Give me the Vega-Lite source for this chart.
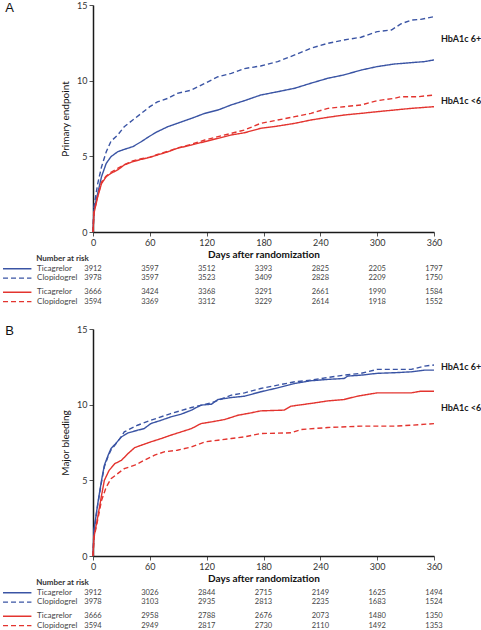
{
  "$schema": "https://vega.github.io/schema/vega-lite/v6.json",
  "padding": {"left": 2, "top": 1, "right": 0, "bottom": 0},
  "bounds": "flush",
  "spacing": 25,
  "config": {
    "view": {"stroke": null},
    "font": "Lato",
    "axis": {"domainColor": "#1a1a1a", "domainWidth": 1.5, "tickColor": "#555", "tickSize": 4, "labelFontSize": 9, "labelColor": "#333", "labelFont": "Lato", "titleFont": "Lato", "titleFontSize": 10, "titleColor": "#111", "grid": false}
  },
  "datasets": {
    "curves": [
      {"panel":"A","group":"6+","drug":"Clopidogrel","day":0,"pct":0},
      {"panel":"A","group":"6+","drug":"Clopidogrel","day":1,"pct":1.67},
      {"panel":"A","group":"6+","drug":"Clopidogrel","day":5,"pct":3.2},
      {"panel":"A","group":"6+","drug":"Clopidogrel","day":9,"pct":4.3},
      {"panel":"A","group":"6+","drug":"Clopidogrel","day":14,"pct":5.3},
      {"panel":"A","group":"6+","drug":"Clopidogrel","day":19,"pct":6.0},
      {"panel":"A","group":"6+","drug":"Clopidogrel","day":26,"pct":6.4},
      {"panel":"A","group":"6+","drug":"Clopidogrel","day":33,"pct":6.96},
      {"panel":"A","group":"6+","drug":"Clopidogrel","day":42,"pct":7.4},
      {"panel":"A","group":"6+","drug":"Clopidogrel","day":51,"pct":7.84},
      {"panel":"A","group":"6+","drug":"Clopidogrel","day":60,"pct":8.28},
      {"panel":"A","group":"6+","drug":"Clopidogrel","day":68,"pct":8.6},
      {"panel":"A","group":"6+","drug":"Clopidogrel","day":79,"pct":8.83},
      {"panel":"A","group":"6+","drug":"Clopidogrel","day":89,"pct":9.16},
      {"panel":"A","group":"6+","drug":"Clopidogrel","day":104,"pct":9.38},
      {"panel":"A","group":"6+","drug":"Clopidogrel","day":118,"pct":9.82},
      {"panel":"A","group":"6+","drug":"Clopidogrel","day":132,"pct":10.26},
      {"panel":"A","group":"6+","drug":"Clopidogrel","day":146,"pct":10.48},
      {"panel":"A","group":"6+","drug":"Clopidogrel","day":160,"pct":10.8},
      {"panel":"A","group":"6+","drug":"Clopidogrel","day":177,"pct":10.97},
      {"panel":"A","group":"6+","drug":"Clopidogrel","day":195,"pct":11.26},
      {"panel":"A","group":"6+","drug":"Clopidogrel","day":213,"pct":11.7},
      {"panel":"A","group":"6+","drug":"Clopidogrel","day":230,"pct":12.14},
      {"panel":"A","group":"6+","drug":"Clopidogrel","day":248,"pct":12.47},
      {"panel":"A","group":"6+","drug":"Clopidogrel","day":265,"pct":12.69},
      {"panel":"A","group":"6+","drug":"Clopidogrel","day":283,"pct":12.87},
      {"panel":"A","group":"6+","drug":"Clopidogrel","day":300,"pct":13.24},
      {"panel":"A","group":"6+","drug":"Clopidogrel","day":315,"pct":13.35},
      {"panel":"A","group":"6+","drug":"Clopidogrel","day":325,"pct":13.75},
      {"panel":"A","group":"6+","drug":"Clopidogrel","day":336,"pct":14.0},
      {"panel":"A","group":"6+","drug":"Clopidogrel","day":346,"pct":14.05},
      {"panel":"A","group":"6+","drug":"Clopidogrel","day":360,"pct":14.23},

      {"panel":"A","group":"6+","drug":"Ticagrelor","day":0,"pct":0},
      {"panel":"A","group":"6+","drug":"Ticagrelor","day":1,"pct":1.45},
      {"panel":"A","group":"6+","drug":"Ticagrelor","day":5,"pct":2.56},
      {"panel":"A","group":"6+","drug":"Ticagrelor","day":9,"pct":3.66},
      {"panel":"A","group":"6+","drug":"Ticagrelor","day":14,"pct":4.54},
      {"panel":"A","group":"6+","drug":"Ticagrelor","day":19,"pct":4.98},
      {"panel":"A","group":"6+","drug":"Ticagrelor","day":26,"pct":5.3},
      {"panel":"A","group":"6+","drug":"Ticagrelor","day":33,"pct":5.46},
      {"panel":"A","group":"6+","drug":"Ticagrelor","day":42,"pct":5.64},
      {"panel":"A","group":"6+","drug":"Ticagrelor","day":51,"pct":5.97},
      {"panel":"A","group":"6+","drug":"Ticagrelor","day":60,"pct":6.34},
      {"panel":"A","group":"6+","drug":"Ticagrelor","day":68,"pct":6.63},
      {"panel":"A","group":"6+","drug":"Ticagrelor","day":79,"pct":6.96},
      {"panel":"A","group":"6+","drug":"Ticagrelor","day":89,"pct":7.18},
      {"panel":"A","group":"6+","drug":"Ticagrelor","day":104,"pct":7.51},
      {"panel":"A","group":"6+","drug":"Ticagrelor","day":118,"pct":7.84},
      {"panel":"A","group":"6+","drug":"Ticagrelor","day":132,"pct":8.06},
      {"panel":"A","group":"6+","drug":"Ticagrelor","day":146,"pct":8.4},
      {"panel":"A","group":"6+","drug":"Ticagrelor","day":160,"pct":8.68},
      {"panel":"A","group":"6+","drug":"Ticagrelor","day":177,"pct":9.05},
      {"panel":"A","group":"6+","drug":"Ticagrelor","day":195,"pct":9.27},
      {"panel":"A","group":"6+","drug":"Ticagrelor","day":213,"pct":9.5},
      {"panel":"A","group":"6+","drug":"Ticagrelor","day":230,"pct":9.83},
      {"panel":"A","group":"6+","drug":"Ticagrelor","day":248,"pct":10.16},
      {"panel":"A","group":"6+","drug":"Ticagrelor","day":265,"pct":10.38},
      {"panel":"A","group":"6+","drug":"Ticagrelor","day":283,"pct":10.7},
      {"panel":"A","group":"6+","drug":"Ticagrelor","day":300,"pct":10.93},
      {"panel":"A","group":"6+","drug":"Ticagrelor","day":318,"pct":11.1},
      {"panel":"A","group":"6+","drug":"Ticagrelor","day":336,"pct":11.19},
      {"panel":"A","group":"6+","drug":"Ticagrelor","day":350,"pct":11.26},
      {"panel":"A","group":"6+","drug":"Ticagrelor","day":360,"pct":11.37},

      {"panel":"A","group":"<6","drug":"Ticagrelor","day":0,"pct":0},
      {"panel":"A","group":"<6","drug":"Ticagrelor","day":1,"pct":1.23},
      {"panel":"A","group":"<6","drug":"Ticagrelor","day":5,"pct":2.33},
      {"panel":"A","group":"<6","drug":"Ticagrelor","day":9,"pct":3.2},
      {"panel":"A","group":"<6","drug":"Ticagrelor","day":14,"pct":3.66},
      {"panel":"A","group":"<6","drug":"Ticagrelor","day":19,"pct":3.88},
      {"panel":"A","group":"<6","drug":"Ticagrelor","day":26,"pct":4.1},
      {"panel":"A","group":"<6","drug":"Ticagrelor","day":33,"pct":4.43},
      {"panel":"A","group":"<6","drug":"Ticagrelor","day":42,"pct":4.65},
      {"panel":"A","group":"<6","drug":"Ticagrelor","day":51,"pct":4.8},
      {"panel":"A","group":"<6","drug":"Ticagrelor","day":60,"pct":4.93},
      {"panel":"A","group":"<6","drug":"Ticagrelor","day":68,"pct":5.09},
      {"panel":"A","group":"<6","drug":"Ticagrelor","day":79,"pct":5.3},
      {"panel":"A","group":"<6","drug":"Ticagrelor","day":89,"pct":5.53},
      {"panel":"A","group":"<6","drug":"Ticagrelor","day":104,"pct":5.75},
      {"panel":"A","group":"<6","drug":"Ticagrelor","day":118,"pct":5.97},
      {"panel":"A","group":"<6","drug":"Ticagrelor","day":132,"pct":6.19},
      {"panel":"A","group":"<6","drug":"Ticagrelor","day":146,"pct":6.41},
      {"panel":"A","group":"<6","drug":"Ticagrelor","day":160,"pct":6.56},
      {"panel":"A","group":"<6","drug":"Ticagrelor","day":177,"pct":6.85},
      {"panel":"A","group":"<6","drug":"Ticagrelor","day":195,"pct":7.0},
      {"panel":"A","group":"<6","drug":"Ticagrelor","day":213,"pct":7.18},
      {"panel":"A","group":"<6","drug":"Ticagrelor","day":230,"pct":7.4},
      {"panel":"A","group":"<6","drug":"Ticagrelor","day":248,"pct":7.58},
      {"panel":"A","group":"<6","drug":"Ticagrelor","day":265,"pct":7.73},
      {"panel":"A","group":"<6","drug":"Ticagrelor","day":283,"pct":7.84},
      {"panel":"A","group":"<6","drug":"Ticagrelor","day":300,"pct":7.95},
      {"panel":"A","group":"<6","drug":"Ticagrelor","day":318,"pct":8.06},
      {"panel":"A","group":"<6","drug":"Ticagrelor","day":336,"pct":8.17},
      {"panel":"A","group":"<6","drug":"Ticagrelor","day":360,"pct":8.28},

      {"panel":"A","group":"<6","drug":"Clopidogrel","day":0,"pct":0},
      {"panel":"A","group":"<6","drug":"Clopidogrel","day":1,"pct":1.3},
      {"panel":"A","group":"<6","drug":"Clopidogrel","day":5,"pct":2.4},
      {"panel":"A","group":"<6","drug":"Clopidogrel","day":9,"pct":3.3},
      {"panel":"A","group":"<6","drug":"Clopidogrel","day":14,"pct":3.7},
      {"panel":"A","group":"<6","drug":"Clopidogrel","day":19,"pct":3.95},
      {"panel":"A","group":"<6","drug":"Clopidogrel","day":26,"pct":4.2},
      {"panel":"A","group":"<6","drug":"Clopidogrel","day":33,"pct":4.45},
      {"panel":"A","group":"<6","drug":"Clopidogrel","day":42,"pct":4.7},
      {"panel":"A","group":"<6","drug":"Clopidogrel","day":51,"pct":4.85},
      {"panel":"A","group":"<6","drug":"Clopidogrel","day":60,"pct":4.95},
      {"panel":"A","group":"<6","drug":"Clopidogrel","day":68,"pct":5.12},
      {"panel":"A","group":"<6","drug":"Clopidogrel","day":79,"pct":5.33},
      {"panel":"A","group":"<6","drug":"Clopidogrel","day":89,"pct":5.55},
      {"panel":"A","group":"<6","drug":"Clopidogrel","day":104,"pct":5.8},
      {"panel":"A","group":"<6","drug":"Clopidogrel","day":118,"pct":6.08},
      {"panel":"A","group":"<6","drug":"Clopidogrel","day":132,"pct":6.3},
      {"panel":"A","group":"<6","drug":"Clopidogrel","day":146,"pct":6.52},
      {"panel":"A","group":"<6","drug":"Clopidogrel","day":160,"pct":6.74},
      {"panel":"A","group":"<6","drug":"Clopidogrel","day":177,"pct":7.18},
      {"panel":"A","group":"<6","drug":"Clopidogrel","day":195,"pct":7.4},
      {"panel":"A","group":"<6","drug":"Clopidogrel","day":213,"pct":7.62},
      {"panel":"A","group":"<6","drug":"Clopidogrel","day":230,"pct":7.84},
      {"panel":"A","group":"<6","drug":"Clopidogrel","day":248,"pct":8.17},
      {"panel":"A","group":"<6","drug":"Clopidogrel","day":265,"pct":8.28},
      {"panel":"A","group":"<6","drug":"Clopidogrel","day":283,"pct":8.39},
      {"panel":"A","group":"<6","drug":"Clopidogrel","day":300,"pct":8.68},
      {"panel":"A","group":"<6","drug":"Clopidogrel","day":318,"pct":8.83},
      {"panel":"A","group":"<6","drug":"Clopidogrel","day":325,"pct":8.94},
      {"panel":"A","group":"<6","drug":"Clopidogrel","day":343,"pct":8.94},
      {"panel":"A","group":"<6","drug":"Clopidogrel","day":360,"pct":9.05},

      {"panel":"B","group":"6+","drug":"Ticagrelor","day":0,"pct":0},
      {"panel":"B","group":"6+","drug":"Ticagrelor","day":1,"pct":1.69},
      {"panel":"B","group":"6+","drug":"Ticagrelor","day":5,"pct":3.45},
      {"panel":"B","group":"6+","drug":"Ticagrelor","day":9,"pct":5.0},
      {"panel":"B","group":"6+","drug":"Ticagrelor","day":12,"pct":6.0},
      {"panel":"B","group":"6+","drug":"Ticagrelor","day":16,"pct":6.66},
      {"panel":"B","group":"6+","drug":"Ticagrelor","day":19,"pct":7.1},
      {"panel":"B","group":"6+","drug":"Ticagrelor","day":24,"pct":7.43},
      {"panel":"B","group":"6+","drug":"Ticagrelor","day":30,"pct":7.87},
      {"panel":"B","group":"6+","drug":"Ticagrelor","day":37,"pct":8.13},
      {"panel":"B","group":"6+","drug":"Ticagrelor","day":47,"pct":8.31},
      {"panel":"B","group":"6+","drug":"Ticagrelor","day":54,"pct":8.42},
      {"panel":"B","group":"6+","drug":"Ticagrelor","day":61,"pct":8.75},
      {"panel":"B","group":"6+","drug":"Ticagrelor","day":72,"pct":8.97},
      {"panel":"B","group":"6+","drug":"Ticagrelor","day":82,"pct":9.19},
      {"panel":"B","group":"6+","drug":"Ticagrelor","day":93,"pct":9.37},
      {"panel":"B","group":"6+","drug":"Ticagrelor","day":104,"pct":9.64},
      {"panel":"B","group":"6+","drug":"Ticagrelor","day":114,"pct":9.97},
      {"panel":"B","group":"6+","drug":"Ticagrelor","day":125,"pct":10.03},
      {"panel":"B","group":"6+","drug":"Ticagrelor","day":132,"pct":10.34},
      {"panel":"B","group":"6+","drug":"Ticagrelor","day":146,"pct":10.47},
      {"panel":"B","group":"6+","drug":"Ticagrelor","day":160,"pct":10.56},
      {"panel":"B","group":"6+","drug":"Ticagrelor","day":177,"pct":10.85},
      {"panel":"B","group":"6+","drug":"Ticagrelor","day":195,"pct":11.11},
      {"panel":"B","group":"6+","drug":"Ticagrelor","day":213,"pct":11.4},
      {"panel":"B","group":"6+","drug":"Ticagrelor","day":230,"pct":11.58},
      {"panel":"B","group":"6+","drug":"Ticagrelor","day":248,"pct":11.67},
      {"panel":"B","group":"6+","drug":"Ticagrelor","day":265,"pct":11.73},
      {"panel":"B","group":"6+","drug":"Ticagrelor","day":269,"pct":11.89},
      {"panel":"B","group":"6+","drug":"Ticagrelor","day":283,"pct":11.95},
      {"panel":"B","group":"6+","drug":"Ticagrelor","day":300,"pct":12.07},
      {"panel":"B","group":"6+","drug":"Ticagrelor","day":318,"pct":12.11},
      {"panel":"B","group":"6+","drug":"Ticagrelor","day":336,"pct":12.17},
      {"panel":"B","group":"6+","drug":"Ticagrelor","day":350,"pct":12.28},
      {"panel":"B","group":"6+","drug":"Ticagrelor","day":360,"pct":12.28},

      {"panel":"B","group":"6+","drug":"Clopidogrel","day":0,"pct":0},
      {"panel":"B","group":"6+","drug":"Clopidogrel","day":1,"pct":1.6},
      {"panel":"B","group":"6+","drug":"Clopidogrel","day":5,"pct":3.4},
      {"panel":"B","group":"6+","drug":"Clopidogrel","day":9,"pct":4.9},
      {"panel":"B","group":"6+","drug":"Clopidogrel","day":12,"pct":5.9},
      {"panel":"B","group":"6+","drug":"Clopidogrel","day":16,"pct":6.6},
      {"panel":"B","group":"6+","drug":"Clopidogrel","day":19,"pct":7.0},
      {"panel":"B","group":"6+","drug":"Clopidogrel","day":24,"pct":7.4},
      {"panel":"B","group":"6+","drug":"Clopidogrel","day":30,"pct":7.9},
      {"panel":"B","group":"6+","drug":"Clopidogrel","day":33,"pct":8.2},
      {"panel":"B","group":"6+","drug":"Clopidogrel","day":47,"pct":8.64},
      {"panel":"B","group":"6+","drug":"Clopidogrel","day":61,"pct":8.97},
      {"panel":"B","group":"6+","drug":"Clopidogrel","day":82,"pct":9.41},
      {"panel":"B","group":"6+","drug":"Clopidogrel","day":104,"pct":9.81},
      {"panel":"B","group":"6+","drug":"Clopidogrel","day":125,"pct":10.12},
      {"panel":"B","group":"6+","drug":"Clopidogrel","day":146,"pct":10.63},
      {"panel":"B","group":"6+","drug":"Clopidogrel","day":160,"pct":10.78},
      {"panel":"B","group":"6+","drug":"Clopidogrel","day":177,"pct":11.07},
      {"panel":"B","group":"6+","drug":"Clopidogrel","day":195,"pct":11.29},
      {"panel":"B","group":"6+","drug":"Clopidogrel","day":213,"pct":11.51},
      {"panel":"B","group":"6+","drug":"Clopidogrel","day":230,"pct":11.62},
      {"panel":"B","group":"6+","drug":"Clopidogrel","day":248,"pct":11.8},
      {"panel":"B","group":"6+","drug":"Clopidogrel","day":265,"pct":11.95},
      {"panel":"B","group":"6+","drug":"Clopidogrel","day":283,"pct":12.07},
      {"panel":"B","group":"6+","drug":"Clopidogrel","day":300,"pct":12.33},
      {"panel":"B","group":"6+","drug":"Clopidogrel","day":336,"pct":12.33},
      {"panel":"B","group":"6+","drug":"Clopidogrel","day":350,"pct":12.55},
      {"panel":"B","group":"6+","drug":"Clopidogrel","day":360,"pct":12.62},

      {"panel":"B","group":"<6","drug":"Ticagrelor","day":0,"pct":0},
      {"panel":"B","group":"<6","drug":"Ticagrelor","day":1,"pct":1.25},
      {"panel":"B","group":"<6","drug":"Ticagrelor","day":5,"pct":2.57},
      {"panel":"B","group":"<6","drug":"Ticagrelor","day":9,"pct":4.0},
      {"panel":"B","group":"<6","drug":"Ticagrelor","day":12,"pct":5.0},
      {"panel":"B","group":"<6","drug":"Ticagrelor","day":17,"pct":5.66},
      {"panel":"B","group":"<6","drug":"Ticagrelor","day":23,"pct":6.1},
      {"panel":"B","group":"<6","drug":"Ticagrelor","day":30,"pct":6.32},
      {"panel":"B","group":"<6","drug":"Ticagrelor","day":37,"pct":6.77},
      {"panel":"B","group":"<6","drug":"Ticagrelor","day":44,"pct":7.16},
      {"panel":"B","group":"<6","drug":"Ticagrelor","day":51,"pct":7.32},
      {"panel":"B","group":"<6","drug":"Ticagrelor","day":61,"pct":7.54},
      {"panel":"B","group":"<6","drug":"Ticagrelor","day":72,"pct":7.76},
      {"panel":"B","group":"<6","drug":"Ticagrelor","day":82,"pct":7.98},
      {"panel":"B","group":"<6","drug":"Ticagrelor","day":93,"pct":8.2},
      {"panel":"B","group":"<6","drug":"Ticagrelor","day":104,"pct":8.42},
      {"panel":"B","group":"<6","drug":"Ticagrelor","day":114,"pct":8.75},
      {"panel":"B","group":"<6","drug":"Ticagrelor","day":125,"pct":8.86},
      {"panel":"B","group":"<6","drug":"Ticagrelor","day":139,"pct":9.02},
      {"panel":"B","group":"<6","drug":"Ticagrelor","day":153,"pct":9.3},
      {"panel":"B","group":"<6","drug":"Ticagrelor","day":167,"pct":9.46},
      {"panel":"B","group":"<6","drug":"Ticagrelor","day":177,"pct":9.59},
      {"panel":"B","group":"<6","drug":"Ticagrelor","day":202,"pct":9.64},
      {"panel":"B","group":"<6","drug":"Ticagrelor","day":209,"pct":9.9},
      {"panel":"B","group":"<6","drug":"Ticagrelor","day":230,"pct":10.08},
      {"panel":"B","group":"<6","drug":"Ticagrelor","day":248,"pct":10.25},
      {"panel":"B","group":"<6","drug":"Ticagrelor","day":265,"pct":10.34},
      {"panel":"B","group":"<6","drug":"Ticagrelor","day":279,"pct":10.56},
      {"panel":"B","group":"<6","drug":"Ticagrelor","day":300,"pct":10.78},
      {"panel":"B","group":"<6","drug":"Ticagrelor","day":336,"pct":10.78},
      {"panel":"B","group":"<6","drug":"Ticagrelor","day":346,"pct":10.89},
      {"panel":"B","group":"<6","drug":"Ticagrelor","day":360,"pct":10.89},

      {"panel":"B","group":"<6","drug":"Clopidogrel","day":0,"pct":0},
      {"panel":"B","group":"<6","drug":"Clopidogrel","day":1,"pct":1.2},
      {"panel":"B","group":"<6","drug":"Clopidogrel","day":5,"pct":2.4},
      {"panel":"B","group":"<6","drug":"Clopidogrel","day":9,"pct":3.67},
      {"panel":"B","group":"<6","drug":"Clopidogrel","day":14,"pct":4.56},
      {"panel":"B","group":"<6","drug":"Clopidogrel","day":19,"pct":5.1},
      {"panel":"B","group":"<6","drug":"Clopidogrel","day":26,"pct":5.44},
      {"panel":"B","group":"<6","drug":"Clopidogrel","day":33,"pct":5.77},
      {"panel":"B","group":"<6","drug":"Clopidogrel","day":44,"pct":6.0},
      {"panel":"B","group":"<6","drug":"Clopidogrel","day":54,"pct":6.32},
      {"panel":"B","group":"<6","drug":"Clopidogrel","day":65,"pct":6.66},
      {"panel":"B","group":"<6","drug":"Clopidogrel","day":75,"pct":6.88},
      {"panel":"B","group":"<6","drug":"Clopidogrel","day":89,"pct":6.99},
      {"panel":"B","group":"<6","drug":"Clopidogrel","day":104,"pct":7.21},
      {"panel":"B","group":"<6","drug":"Clopidogrel","day":118,"pct":7.54},
      {"panel":"B","group":"<6","drug":"Clopidogrel","day":132,"pct":7.65},
      {"panel":"B","group":"<6","drug":"Clopidogrel","day":146,"pct":7.76},
      {"panel":"B","group":"<6","drug":"Clopidogrel","day":160,"pct":7.87},
      {"panel":"B","group":"<6","drug":"Clopidogrel","day":177,"pct":8.09},
      {"panel":"B","group":"<6","drug":"Clopidogrel","day":209,"pct":8.14},
      {"panel":"B","group":"<6","drug":"Clopidogrel","day":220,"pct":8.36},
      {"panel":"B","group":"<6","drug":"Clopidogrel","day":248,"pct":8.49},
      {"panel":"B","group":"<6","drug":"Clopidogrel","day":283,"pct":8.58},
      {"panel":"B","group":"<6","drug":"Clopidogrel","day":318,"pct":8.58},
      {"panel":"B","group":"<6","drug":"Clopidogrel","day":336,"pct":8.64},
      {"panel":"B","group":"<6","drug":"Clopidogrel","day":360,"pct":8.75}
    ],
    "risk": [
      {"panel":"A","group":"6+","drug":"Ticagrelor","row":"6+ Ticagrelor","day":0,"n":3912},
      {"panel":"A","group":"6+","drug":"Ticagrelor","row":"6+ Ticagrelor","day":60,"n":3597},
      {"panel":"A","group":"6+","drug":"Ticagrelor","row":"6+ Ticagrelor","day":120,"n":3512},
      {"panel":"A","group":"6+","drug":"Ticagrelor","row":"6+ Ticagrelor","day":180,"n":3393},
      {"panel":"A","group":"6+","drug":"Ticagrelor","row":"6+ Ticagrelor","day":240,"n":2825},
      {"panel":"A","group":"6+","drug":"Ticagrelor","row":"6+ Ticagrelor","day":300,"n":2205},
      {"panel":"A","group":"6+","drug":"Ticagrelor","row":"6+ Ticagrelor","day":360,"n":1797},
      {"panel":"A","group":"6+","drug":"Clopidogrel","row":"6+ Clopidogrel","day":0,"n":3978},
      {"panel":"A","group":"6+","drug":"Clopidogrel","row":"6+ Clopidogrel","day":60,"n":3597},
      {"panel":"A","group":"6+","drug":"Clopidogrel","row":"6+ Clopidogrel","day":120,"n":3523},
      {"panel":"A","group":"6+","drug":"Clopidogrel","row":"6+ Clopidogrel","day":180,"n":3409},
      {"panel":"A","group":"6+","drug":"Clopidogrel","row":"6+ Clopidogrel","day":240,"n":2828},
      {"panel":"A","group":"6+","drug":"Clopidogrel","row":"6+ Clopidogrel","day":300,"n":2209},
      {"panel":"A","group":"6+","drug":"Clopidogrel","row":"6+ Clopidogrel","day":360,"n":1750},
      {"panel":"A","group":"<6","drug":"Ticagrelor","row":"<6 Ticagrelor","day":0,"n":3666},
      {"panel":"A","group":"<6","drug":"Ticagrelor","row":"<6 Ticagrelor","day":60,"n":3424},
      {"panel":"A","group":"<6","drug":"Ticagrelor","row":"<6 Ticagrelor","day":120,"n":3368},
      {"panel":"A","group":"<6","drug":"Ticagrelor","row":"<6 Ticagrelor","day":180,"n":3291},
      {"panel":"A","group":"<6","drug":"Ticagrelor","row":"<6 Ticagrelor","day":240,"n":2661},
      {"panel":"A","group":"<6","drug":"Ticagrelor","row":"<6 Ticagrelor","day":300,"n":1990},
      {"panel":"A","group":"<6","drug":"Ticagrelor","row":"<6 Ticagrelor","day":360,"n":1584},
      {"panel":"A","group":"<6","drug":"Clopidogrel","row":"<6 Clopidogrel","day":0,"n":3594},
      {"panel":"A","group":"<6","drug":"Clopidogrel","row":"<6 Clopidogrel","day":60,"n":3369},
      {"panel":"A","group":"<6","drug":"Clopidogrel","row":"<6 Clopidogrel","day":120,"n":3312},
      {"panel":"A","group":"<6","drug":"Clopidogrel","row":"<6 Clopidogrel","day":180,"n":3229},
      {"panel":"A","group":"<6","drug":"Clopidogrel","row":"<6 Clopidogrel","day":240,"n":2614},
      {"panel":"A","group":"<6","drug":"Clopidogrel","row":"<6 Clopidogrel","day":300,"n":1918},
      {"panel":"A","group":"<6","drug":"Clopidogrel","row":"<6 Clopidogrel","day":360,"n":1552},
      {"panel":"B","group":"6+","drug":"Ticagrelor","row":"6+ Ticagrelor","day":0,"n":3912},
      {"panel":"B","group":"6+","drug":"Ticagrelor","row":"6+ Ticagrelor","day":60,"n":3026},
      {"panel":"B","group":"6+","drug":"Ticagrelor","row":"6+ Ticagrelor","day":120,"n":2844},
      {"panel":"B","group":"6+","drug":"Ticagrelor","row":"6+ Ticagrelor","day":180,"n":2715},
      {"panel":"B","group":"6+","drug":"Ticagrelor","row":"6+ Ticagrelor","day":240,"n":2149},
      {"panel":"B","group":"6+","drug":"Ticagrelor","row":"6+ Ticagrelor","day":300,"n":1625},
      {"panel":"B","group":"6+","drug":"Ticagrelor","row":"6+ Ticagrelor","day":360,"n":1494},
      {"panel":"B","group":"6+","drug":"Clopidogrel","row":"6+ Clopidogrel","day":0,"n":3978},
      {"panel":"B","group":"6+","drug":"Clopidogrel","row":"6+ Clopidogrel","day":60,"n":3103},
      {"panel":"B","group":"6+","drug":"Clopidogrel","row":"6+ Clopidogrel","day":120,"n":2935},
      {"panel":"B","group":"6+","drug":"Clopidogrel","row":"6+ Clopidogrel","day":180,"n":2813},
      {"panel":"B","group":"6+","drug":"Clopidogrel","row":"6+ Clopidogrel","day":240,"n":2235},
      {"panel":"B","group":"6+","drug":"Clopidogrel","row":"6+ Clopidogrel","day":300,"n":1683},
      {"panel":"B","group":"6+","drug":"Clopidogrel","row":"6+ Clopidogrel","day":360,"n":1524},
      {"panel":"B","group":"<6","drug":"Ticagrelor","row":"<6 Ticagrelor","day":0,"n":3666},
      {"panel":"B","group":"<6","drug":"Ticagrelor","row":"<6 Ticagrelor","day":60,"n":2958},
      {"panel":"B","group":"<6","drug":"Ticagrelor","row":"<6 Ticagrelor","day":120,"n":2788},
      {"panel":"B","group":"<6","drug":"Ticagrelor","row":"<6 Ticagrelor","day":180,"n":2676},
      {"panel":"B","group":"<6","drug":"Ticagrelor","row":"<6 Ticagrelor","day":240,"n":2073},
      {"panel":"B","group":"<6","drug":"Ticagrelor","row":"<6 Ticagrelor","day":300,"n":1480},
      {"panel":"B","group":"<6","drug":"Ticagrelor","row":"<6 Ticagrelor","day":360,"n":1350},
      {"panel":"B","group":"<6","drug":"Clopidogrel","row":"<6 Clopidogrel","day":0,"n":3594},
      {"panel":"B","group":"<6","drug":"Clopidogrel","row":"<6 Clopidogrel","day":60,"n":2949},
      {"panel":"B","group":"<6","drug":"Clopidogrel","row":"<6 Clopidogrel","day":120,"n":2817},
      {"panel":"B","group":"<6","drug":"Clopidogrel","row":"<6 Clopidogrel","day":180,"n":2730},
      {"panel":"B","group":"<6","drug":"Clopidogrel","row":"<6 Clopidogrel","day":240,"n":2110},
      {"panel":"B","group":"<6","drug":"Clopidogrel","row":"<6 Clopidogrel","day":300,"n":1492},
      {"panel":"B","group":"<6","drug":"Clopidogrel","row":"<6 Clopidogrel","day":360,"n":1353}
    ]
  },
  "vconcat": [
    {
      "width": 341, "height": 227,
      "layer": [
        {
          "data": {"name": "curves"},
          "transform": [{"filter": "datum.panel === 'A'"}],
          "mark": {"type": "line", "strokeWidth": 1.4},
          "encoding": {
            "x": {"field": "day", "type": "quantitative", "scale": {"domain": [0, 360], "nice": false},
              "axis": {"values": [0,30,60,90,120,150,180,210,240,270,300,330,360], "labelExpr": "datum.value % 60 === 0 ? datum.label : ''", "title": "Days after randomization", "titleFontWeight": "bold", "labelPadding": 2, "titlePadding": 2, "labelFlush": false}},
            "y": {"field": "pct", "type": "quantitative", "scale": {"domain": [0, 15], "nice": false},
              "axis": {"values": [0, 5, 10, 15], "title": "Primary endpoint", "titleFontWeight": "normal", "titlePadding": 6, "labelPadding": 2}},
            "color": {"field": "group", "type": "nominal", "scale": {"domain": ["6+", "<6"], "range": ["#3a54a4", "#e3342f"]}, "legend": null},
            "strokeDash": {"field": "drug", "type": "nominal", "scale": {"domain": ["Ticagrelor", "Clopidogrel"], "range": [[1, 0], [5, 3]]}, "legend": null}
          }
        },
        {
          "data": {"values": [{"label": "HbA1c 6+"}]},
          "mark": {"type": "text", "align": "left", "baseline": "middle", "dx": 7, "fontSize": 9, "fontWeight": "bold", "color": "#1a1a1a"},
          "encoding": {"x": {"datum": 360, "type": "quantitative"}, "y": {"datum": 12.76, "type": "quantitative"}, "text": {"field": "label"}}
        },
        {
          "data": {"values": [{"label": "HbA1c <6"}]},
          "mark": {"type": "text", "align": "left", "baseline": "middle", "dx": 7, "fontSize": 9, "fontWeight": "bold", "color": "#1a1a1a"},
          "encoding": {"x": {"datum": 360, "type": "quantitative"}, "y": {"datum": 8.66, "type": "quantitative"}, "text": {"field": "label"}}
        },
        {
          "data": {"values": [{"label": "A"}]},
          "mark": {"type": "text", "align": "center", "baseline": "middle", "dy": 2.5, "fontSize": 13, "font": "Liberation Sans", "color": "#111"},
          "encoding": {"x": {"datum": -88, "type": "quantitative"}, "y": {"datum": 15, "type": "quantitative"}, "text": {"field": "label"}}
        }
      ]
    },
    {
      "width": 341, "height": 47,
      "layer": [
        {
          "data": {"name": "risk"},
          "transform": [{"filter": "datum.panel === 'A'"}],
          "mark": {"type": "text", "fontSize": 7.5, "color": "#444", "align": "center", "baseline": "middle"},
          "encoding": {
            "x": {"field": "day", "type": "quantitative", "scale": {"domain": [0, 360], "nice": false}, "axis": null},
            "y": {"field": "row", "type": "nominal", "scale": {"type": "point", "padding": 0.5, "domain": ["hdr","s1","6+ Ticagrelor","s2","6+ Clopidogrel","s3","s4","<6 Ticagrelor","s5","<6 Clopidogrel"]}, "axis": null},
            "text": {"field": "n", "type": "nominal"}
          }
        },
        {
          "data": {"name": "risk"},
          "transform": [{"filter": "datum.panel === 'A' && datum.day === 0"}],
          "mark": {"type": "text", "fontSize": 8, "color": "#444", "align": "left", "baseline": "middle"},
          "encoding": {
            "x": {"datum": -59, "type": "quantitative"},
            "y": {"field": "row", "type": "nominal"},
            "text": {"field": "drug", "type": "nominal"}
          }
        },
        {
          "data": {"name": "risk"},
          "transform": [{"filter": "datum.panel === 'A' && datum.day === 0"}],
          "mark": {"type": "rule", "strokeWidth": 1.4},
          "encoding": {
            "x": {"datum": -95, "type": "quantitative"},
            "x2": {"datum": -65},
            "y": {"field": "row", "type": "nominal"},
            "color": {"field": "group", "type": "nominal", "scale": {"domain": ["6+", "<6"], "range": ["#3a54a4", "#e3342f"]}, "legend": null},
            "strokeDash": {"field": "drug", "type": "nominal", "scale": {"domain": ["Ticagrelor", "Clopidogrel"], "range": [[1, 0], [5, 3]]}, "legend": null}
          }
        },
        {
          "data": {"values": [{"row": "hdr", "label": "Number at risk"}]},
          "mark": {"type": "text", "fontSize": 8, "fontWeight": "bold", "color": "#333", "align": "left", "baseline": "middle"},
          "encoding": {
            "x": {"datum": -60, "type": "quantitative"},
            "y": {"field": "row", "type": "nominal"},
            "text": {"field": "label", "type": "nominal"}
          }
        }
      ]
    },
    {
      "width": 341, "height": 227,
      "layer": [
        {
          "data": {"name": "curves"},
          "transform": [{"filter": "datum.panel === 'B'"}],
          "mark": {"type": "line", "strokeWidth": 1.4},
          "encoding": {
            "x": {"field": "day", "type": "quantitative", "scale": {"domain": [0, 360], "nice": false},
              "axis": {"values": [0,30,60,90,120,150,180,210,240,270,300,330,360], "labelExpr": "datum.value % 60 === 0 ? datum.label : ''", "title": "Days after randomization", "titleFontWeight": "bold", "labelPadding": 2, "titlePadding": 2, "labelFlush": false}},
            "y": {"field": "pct", "type": "quantitative", "scale": {"domain": [0, 15], "nice": false},
              "axis": {"values": [0, 5, 10, 15], "title": "Major bleeding", "titleFontWeight": "normal", "titlePadding": 6, "labelPadding": 2}},
            "color": {"field": "group", "type": "nominal", "scale": {"domain": ["6+", "<6"], "range": ["#3a54a4", "#e3342f"]}, "legend": null},
            "strokeDash": {"field": "drug", "type": "nominal", "scale": {"domain": ["Ticagrelor", "Clopidogrel"], "range": [[1, 0], [5, 3]]}, "legend": null}
          }
        },
        {
          "data": {"values": [{"label": "HbA1c 6+"}]},
          "mark": {"type": "text", "align": "left", "baseline": "middle", "dx": 7, "fontSize": 9, "fontWeight": "bold", "color": "#1a1a1a"},
          "encoding": {"x": {"datum": 360, "type": "quantitative"}, "y": {"datum": 12.48, "type": "quantitative"}, "text": {"field": "label"}}
        },
        {
          "data": {"values": [{"label": "HbA1c <6"}]},
          "mark": {"type": "text", "align": "left", "baseline": "middle", "dx": 7, "fontSize": 9, "fontWeight": "bold", "color": "#1a1a1a"},
          "encoding": {"x": {"datum": 360, "type": "quantitative"}, "y": {"datum": 9.81, "type": "quantitative"}, "text": {"field": "label"}}
        },
        {
          "data": {"values": [{"label": "B"}]},
          "mark": {"type": "text", "align": "center", "baseline": "middle", "dy": 2, "fontSize": 13, "font": "Liberation Sans", "color": "#111"},
          "encoding": {"x": {"datum": -88, "type": "quantitative"}, "y": {"datum": 15, "type": "quantitative"}, "text": {"field": "label"}}
        }
      ]
    },
    {
      "width": 341, "height": 47,
      "layer": [
        {
          "data": {"name": "risk"},
          "transform": [{"filter": "datum.panel === 'B'"}],
          "mark": {"type": "text", "fontSize": 7.5, "color": "#444", "align": "center", "baseline": "middle"},
          "encoding": {
            "x": {"field": "day", "type": "quantitative", "scale": {"domain": [0, 360], "nice": false}, "axis": null},
            "y": {"field": "row", "type": "nominal", "scale": {"type": "point", "padding": 0.5, "domain": ["hdr","s1","6+ Ticagrelor","s2","6+ Clopidogrel","s3","s4","<6 Ticagrelor","s5","<6 Clopidogrel"]}, "axis": null},
            "text": {"field": "n", "type": "nominal"}
          }
        },
        {
          "data": {"name": "risk"},
          "transform": [{"filter": "datum.panel === 'B' && datum.day === 0"}],
          "mark": {"type": "text", "fontSize": 8, "color": "#444", "align": "left", "baseline": "middle"},
          "encoding": {
            "x": {"datum": -59, "type": "quantitative"},
            "y": {"field": "row", "type": "nominal"},
            "text": {"field": "drug", "type": "nominal"}
          }
        },
        {
          "data": {"name": "risk"},
          "transform": [{"filter": "datum.panel === 'B' && datum.day === 0"}],
          "mark": {"type": "rule", "strokeWidth": 1.4},
          "encoding": {
            "x": {"datum": -95, "type": "quantitative"},
            "x2": {"datum": -65},
            "y": {"field": "row", "type": "nominal"},
            "color": {"field": "group", "type": "nominal", "scale": {"domain": ["6+", "<6"], "range": ["#3a54a4", "#e3342f"]}, "legend": null},
            "strokeDash": {"field": "drug", "type": "nominal", "scale": {"domain": ["Ticagrelor", "Clopidogrel"], "range": [[1, 0], [5, 3]]}, "legend": null}
          }
        },
        {
          "data": {"values": [{"row": "hdr", "label": "Number at risk"}]},
          "mark": {"type": "text", "fontSize": 8, "fontWeight": "bold", "color": "#333", "align": "left", "baseline": "middle"},
          "encoding": {
            "x": {"datum": -60, "type": "quantitative"},
            "y": {"field": "row", "type": "nominal"},
            "text": {"field": "label", "type": "nominal"}
          }
        }
      ]
    }
  ]
}
